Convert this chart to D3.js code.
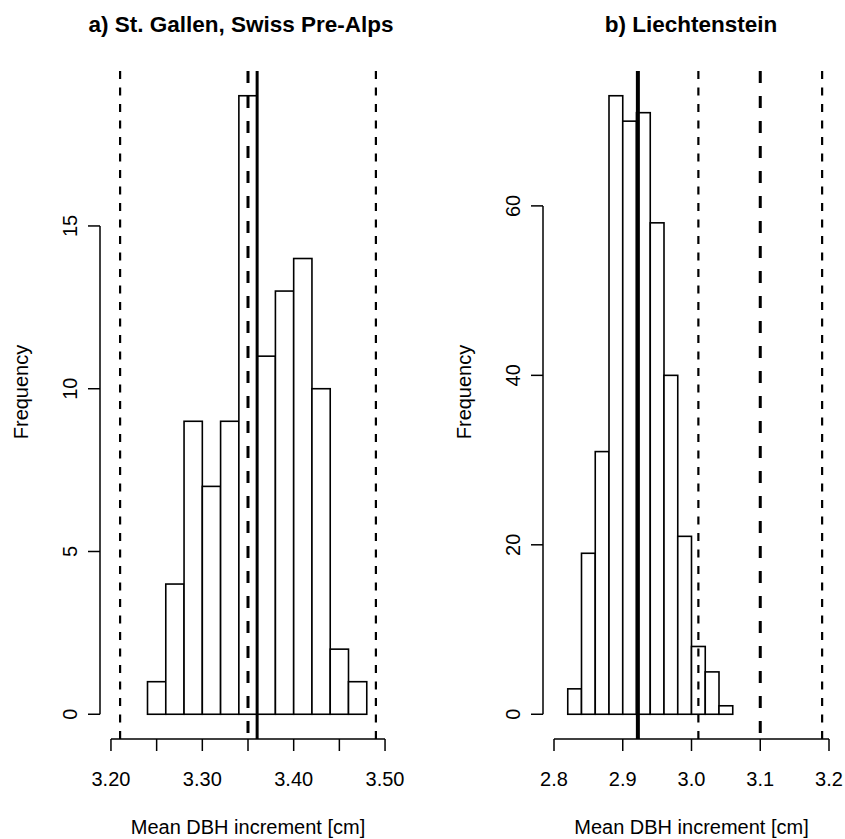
<!DOCTYPE html>
<html lang="en">
<head>
<meta charset="UTF-8" />
<title>Mean DBH increment histograms</title>
<script src="https://cdn.jsdelivr.net/npm/d3@7/dist/d3.min.js"></script>
<style>
    body { margin: 0; background: #fff; }
    svg { display: block; font-family: "Liberation Sans", Arial, sans-serif; }
</style>
</head>
<body>
<script>
    // panel a) St. Gallen
    const breaksA = [3.24, 3.26, 3.28, 3.30, 3.32, 3.34, 3.36, 3.38, 3.40, 3.42, 3.44, 3.46, 3.48];
    const countsA = [1, 4, 9, 7, 9, 19, 11, 13, 14, 10, 2, 1];
    const xTicksA = [3.20, 3.25, 3.30, 3.35, 3.40, 3.45, 3.50];
    const xLabelsA = ["3.20", "", "3.30", "", "3.40", "", "3.50"];
    const yTicksA = [0, 5, 10, 15];
    const linesA = [
        { v: 3.21, kind: "dash" },
        { v: 3.49, kind: "dash" },
        { v: 3.35, kind: "longdash" },
        { v: 3.36, kind: "solid" }
    ];

    // panel b) Liechtenstein
    const breaksB = [2.82, 2.84, 2.86, 2.88, 2.90, 2.92, 2.94, 2.96, 2.98, 3.00, 3.02, 3.04, 3.06];
    const countsB = [3, 19, 31, 73, 70, 71, 58, 40, 21, 8, 5, 1];
    const xTicksB = [2.8, 2.9, 3.0, 3.1, 3.2];
    const xLabelsB = ["2.8", "2.9", "3.0", "3.1", "3.2"];
    const yTicksB = [0, 20, 40, 60];
    const linesB = [
        { v: 3.01, kind: "dash" },
        { v: 3.19, kind: "dash" },
        { v: 3.10, kind: "longdash" },
        { v: 2.922, kind: "solid" }
    ];

    const width = 845, height = 839;
    const plotTop = 71, plotBottom = 739;

    const svg = d3.select("body").append("svg")
        .attr("width", width)
        .attr("height", height);

    const lineStyle = {
        dash: { w: 2.2, dash: "8,8.5" },
        longdash: { w: 3, dash: "12,13" },
        solid: { w: 3.2, dash: null }
    };

    function panel(opt) {
        const g = svg.append("g");
        // R style: 4% extension of the limits
        const xr = opt.xlim[1] - opt.xlim[0];
        const ymax = d3.max(opt.counts);
        const x = d3.scaleLinear()
            .domain([opt.xlim[0] - 0.04 * xr, opt.xlim[1] + 0.04 * xr])
            .range([opt.left, opt.right]);
        const y = d3.scaleLinear()
            .domain([-0.04 * ymax, ymax * 1.04])
            .range([plotBottom, plotTop]);

        const bins = opt.counts.map((c, i) => ({ x0: opt.breaks[i], x1: opt.breaks[i + 1], n: c }));

        g.selectAll("rect.bar")
            .data(bins)
            .join("rect")
            .attr("class", "bar")
            .attr("x", d => x(d.x0))
            .attr("y", d => y(d.n))
            .attr("width", d => x(d.x1) - x(d.x0))
            .attr("height", d => y(0) - y(d.n))
            .attr("fill", "#fff")
            .attr("stroke", "#000")
            .attr("stroke-width", 1.6);

        // vertical reference lines across the plot region
        g.selectAll("line.ref")
            .data(opt.lines)
            .join("line")
            .attr("class", "ref")
            .attr("x1", d => x(d.v))
            .attr("x2", d => x(d.v))
            .attr("y1", plotTop)
            .attr("y2", plotBottom)
            .attr("stroke", "#000")
            .attr("stroke-width", d => d.kind == "solid" ? opt.solidW : lineStyle[d.kind].w)
            .attr("stroke-dasharray", d => lineStyle[d.kind].dash);

        // x axis
        const xa = g.append("g").attr("transform", `translate(0,${plotBottom})`);
        xa.append("line")
            .attr("x1", x(opt.xTicks[0])).attr("x2", x(opt.xTicks[opt.xTicks.length - 1]))
            .attr("stroke", "#000").attr("stroke-width", 1.5);
        xa.selectAll("line.tk").data(opt.xTicks).join("line")
            .attr("class", "tk")
            .attr("x1", d => x(d)).attr("x2", d => x(d))
            .attr("y1", 0).attr("y2", 12)
            .attr("stroke", "#000").attr("stroke-width", 1.5);
        xa.selectAll("text").data(opt.xTicks).join("text")
            .attr("x", d => x(d))
            .attr("y", 47)
            .attr("text-anchor", "middle")
            .attr("font-size", 20)
            .text((d, i) => opt.xLabels[i]);

        // y axis
        const yx = x.range()[0];
        const ya = g.append("g").attr("transform", `translate(${yx},0)`);
        ya.append("line")
            .attr("y1", y(opt.yTicks[0])).attr("y2", y(opt.yTicks[opt.yTicks.length - 1]))
            .attr("stroke", "#000").attr("stroke-width", 1.5);
        ya.selectAll("line.tk").data(opt.yTicks).join("line")
            .attr("class", "tk")
            .attr("y1", d => y(d)).attr("y2", d => y(d))
            .attr("x1", 0).attr("x2", -12)
            .attr("stroke", "#000").attr("stroke-width", 1.5);
        ya.selectAll("text").data(opt.yTicks).join("text")
            .attr("transform", d => `translate(-23,${y(d)}) rotate(-90)`)
            .attr("text-anchor", "middle")
            .attr("font-size", 20)
            .text(d => d);

        g.append("text")
            .attr("transform", `translate(${yx - 72},392) rotate(-90)`)
            .attr("text-anchor", "middle")
            .attr("font-size", 20)
            .text("Frequency");

        g.append("text")
            .attr("x", (opt.left + opt.right) / 2)
            .attr("y", 834)
            .attr("text-anchor", "middle")
            .attr("font-size", 20)
            .text("Mean DBH increment [cm]");

        g.append("text")
            .attr("x", opt.titleX)
            .attr("y", 32)
            .attr("text-anchor", "middle")
            .attr("font-size", 22.5)
            .attr("font-weight", "bold")
            .text(opt.title);
    }

    panel({
        title: "a) St. Gallen, Swiss Pre-Alps", titleX: 241,
        left: 100, right: 396, xlim: [3.2, 3.5],
        breaks: breaksA, counts: countsA,
        xTicks: xTicksA, xLabels: xLabelsA, yTicks: yTicksA,
        lines: linesA, solidW: 3
    });

    panel({
        title: "b) Liechtenstein", titleX: 691,
        left: 543, right: 840, xlim: [2.8, 3.2],
        breaks: breaksB, counts: countsB,
        xTicks: xTicksB, xLabels: xLabelsB, yTicks: yTicksB,
        lines: linesB, solidW: 4
    });
</script>
</body>
</html>
